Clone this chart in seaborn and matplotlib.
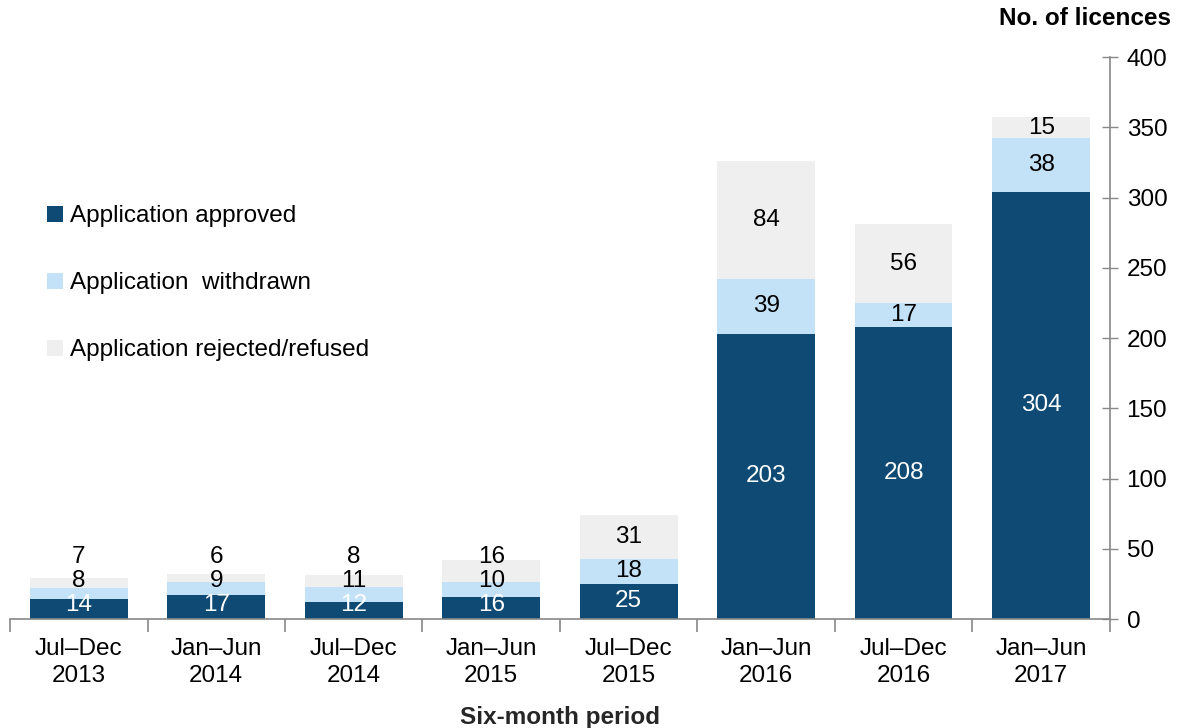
import numpy as np
import pandas as pd
import seaborn as sns
import matplotlib.pyplot as plt
from matplotlib.ticker import FixedLocator

periods = ['Jul–Dec\n2013', 'Jan–Jun\n2014', 'Jul–Dec\n2014', 'Jan–Jun\n2015',
           'Jul–Dec\n2015', 'Jan–Jun\n2016', 'Jul–Dec\n2016', 'Jan–Jun\n2017']
approved = [14, 17, 12, 16, 25, 203, 208, 304]
withdrawn = [8, 9, 11, 10, 18, 39, 17, 38]
rejected = [7, 6, 8, 16, 31, 84, 56, 15]

series = ['Application approved', 'Application  withdrawn', 'Application rejected/refused']
colors = ['#0e4a73', '#c4e2f7', '#efefef']

sns.set_style('white')
plt.rcParams['font.family'] = ['Liberation Sans', 'DejaVu Sans']
plt.rcParams['text.color'] = 'black'
plt.rcParams['xtick.color'] = 'black'
plt.rcParams['ytick.color'] = 'black'

FS = 17.5

fig = plt.figure(figsize=(11.82, 7.28), dpi=100)
ax = fig.add_axes([0.0085, 0.1497, 0.9305, 0.772])

df = pd.DataFrame({'period': periods, 'approved': approved,
                   'withdrawn': withdrawn, 'rejected': rejected})
bottoms = [np.zeros(len(df)), df['approved'].values,
           (df['approved'] + df['withdrawn']).values]
for col, name, c, b in zip(['approved', 'withdrawn', 'rejected'], series, colors, bottoms):
    sns.barplot(data=df, x='period', y=col, bottom=b, color=c, label=name,
                width=0.71, saturation=1, ax=ax, linewidth=0)

# value labels, nudged upward on the short bars so they don't collide
for i in range(len(df)):
    vals = [approved[i], withdrawn[i], rejected[i]]
    base = 0
    prev = None
    for j, v in enumerate(vals):
        y = base + v / 2
        if sum(vals) < 50:
            y = max(y, 10) if prev is None else max(y, prev + 17)
        prev = y
        base += v
        ax.text(i, y, str(v), ha='center', va='center', fontsize=FS,
                color='white' if j == 0 else 'black')

ax.set_xlim(-0.5, len(df) - 0.5)
ax.set_ylim(0, 400)
ax.set_yticks(range(0, 401, 50))
ax.yaxis.tick_right()
ax.tick_params(axis='y', right=True, direction='inout', length=12, width=1, color='#888888',
               labelsize=FS, pad=6, labelcolor='black')
ax.tick_params(axis='x', length=0, labelsize=FS, pad=14, labelcolor='black')
ax.xaxis.set_minor_locator(FixedLocator(np.arange(-0.5, len(df), 1)))
ax.tick_params(axis='x', which='minor', bottom=True, direction='out', length=9, width=1.2,
               color='#888888')
for lab in ax.get_xticklabels():
    lab.set_linespacing(1.25)

for s in ['top', 'left']:
    ax.spines[s].set_visible(False)
for s in ['bottom', 'right']:
    ax.spines[s].set_color('#888888')
    ax.spines[s].set_linewidth(1.2)

ax.set_xlabel('Six-month period', fontsize=FS, fontweight='bold', labelpad=14)
ax.set_ylabel('')
ax.text(1.056, 1.069, 'No. of licences', transform=ax.transAxes, ha='right', va='center',
        fontsize=FS, fontweight='bold')

ax.legend(loc='upper left', bbox_to_anchor=(0.014, 0.775), frameon=False, fontsize=FS,
          handlelength=0.65, handleheight=0.65, handletextpad=0.3, labelspacing=1.85)

fig.savefig('out.png', dpi=100)
